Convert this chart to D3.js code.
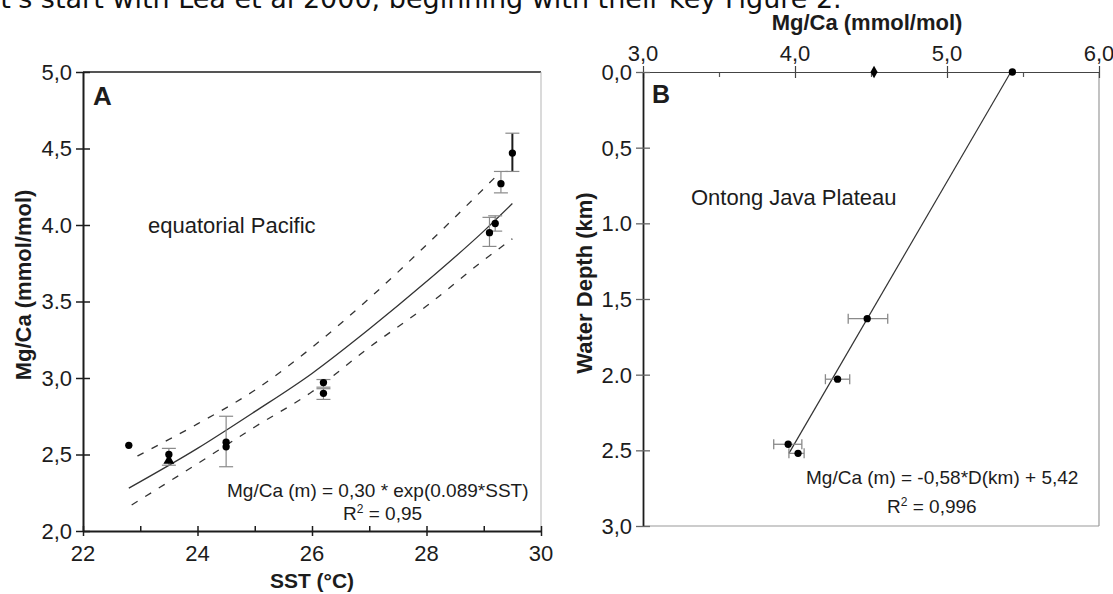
<!DOCTYPE html>
<html>
<head>
<meta charset="utf-8">
<script src="https://cdn.jsdelivr.net/npm/d3@7"></script>
<style>
  body { margin: 0; background: #fff; overflow: hidden; }
  svg { display: block; }
</style>
</head>
<body>
<div id="chart"></div>
<script>
// ---- panel A : Mg/Ca vs SST, equatorial Pacific ----
const sstTicks = [22, 24, 26, 28, 30]
const sstMinor = [23, 25, 27, 29]
const mgTicksA = [2, 2.5, 3, 3.5, 4, 4.5, 5]
const mgTickLabelsA = ['2,0', '2,5', '3,0', '3.5', '4.0', '4,5', '5,0']

const sstPts = [22.8, 23.5, 23.5, 24.5, 24.5, 26.2, 26.2, 29.1, 29.2, 29.3, 29.5]
const mgPtsA = [2.56, 2.5, 2.46, 2.58, 2.55, 2.97, 2.9, 3.95, 4.01, 4.27, 4.47]
const mgErrLoA = [null, 2.43, null, 2.42, null, 2.94, 2.86, 3.86, 3.96, 4.21, 4.35]
const mgErrHiA = [null, 2.54, null, 2.75, null, 2.99, 2.93, 4.05, 4.06, 4.35, 4.6]
const markerA = ['circle', 'circle', 'triangle', 'circle', 'circle', 'circle', 'circle', 'circle', 'circle', 'circle', 'circle']

// fitted curve and confidence band
const fitSst = [22.8, 24, 25, 26, 27, 28, 29, 29.5]
const fitMg = [2.28, 2.54, 2.78, 3.03, 3.32, 3.63, 3.96, 4.14]
const upSst = [22.95, 24, 25, 26, 27, 28, 29.3]
const upMg = [2.49, 2.7, 2.92, 3.2, 3.52, 3.87, 4.35]
const loSst = [22.85, 24, 25, 26, 27, 28, 29, 29.5]
const loMg = [2.17, 2.44, 2.68, 2.91, 3.2, 3.47, 3.77, 3.91]

// ---- panel B : Mg/Ca vs water depth, Ontong Java Plateau ----
const mgTicksB = [3, 4, 5, 6]
const mgTickLabelsB = ['3,0', '4,0', '5,0', '6,0']
const mgMinorB = [3.5, 4.5, 5.5]
const depthTicks = [0, 0.5, 1, 1.5, 2, 2.5, 3]
const depthTickLabels = ['0,0', '0,5', '1.0', '1,5', '2.0', '2.5', '3,0']

const depthPts = [0, 0, 1.63, 2.03, 2.46, 2.52]
const mgPtsB = [5.43, 4.52, 4.475, 4.28, 3.955, 4.02]
const mgErrLoB = [null, null, 4.35, 4.2, 3.86, 3.96]
const mgErrHiB = [null, null, 4.61, 4.36, 4.045, 4.06]
const markerB = ['circle', 'diamond', 'circle', 'circle', 'circle', 'circle']

const fitDepth = [0, 2.52]
const fitMgB = [5.42, 3.96]

const width = 1113
const height = 594
const ink = '#1c1c1c'
const gray = '#8a8a8a'

const A = { left: 83, right: 541, top: 72, bottom: 531 }
const B = { left: 643, right: 1099, top: 72, bottom: 526 }

const svg = d3.select('#chart')
  .append('svg')
  .attr('width', width)
  .attr('height', height)

svg.append('rect').attr('width', width).attr('height', height).attr('fill', '#fff')

const txt = (g, x, y, s, o = {}) => {
  const t = g.append('text')
    .attr('transform', `translate(${x},${y})${o.rot ? ` rotate(${o.rot})` : ''}`)
    .attr('text-anchor', o.anchor || 'start')
    .attr('dy', '0.36em')
    .style('font-family', o.family || '"Liberation Sans", Arial, sans-serif')
    .style('font-size', `${o.size || 22}px`)
    .style('font-weight', o.bold ? 'bold' : 'normal')
    .attr('fill', o.fill || ink)
  if (s) t.text(s)
  return t
}

const rSquared = (g, x, y, val, size) => {
  const t = txt(g, x, y, null, { size })
  t.append('tspan').text('R')
  t.append('tspan').attr('dy', -7).style('font-size', '12px').text('2')
  t.append('tspan').attr('dy', 7).text(` = ${val}`)
}

const symbolPath = (type) => {
  if (type === 'triangle') return d3.symbol(d3.symbolTriangle, 52)()
  if (type === 'diamond') return d3.symbol(d3.symbolDiamond, 44)()
  return d3.symbol(d3.symbolCircle, 42)()
}

// page text cut off at the top
txt(svg, -31, -2, "Let's start with Lea et al 2000, beginning with their key Figure 2.", {
  family: '"DejaVu Sans", Verdana, sans-serif', size: 27, fill: '#111'
})

// ================= PANEL A =================
const xA = d3.scaleLinear().domain([22, 30]).range([A.left, A.right])
const yA = d3.scaleLinear().domain([2, 5]).range([A.bottom, A.top])
const gA = svg.append('g')

// frame: top black, right grey
gA.append('line').attr('x1', A.left).attr('x2', A.right).attr('y1', A.top).attr('y2', A.top)
  .attr('stroke', ink).attr('stroke-width', 1.6)
gA.append('line').attr('x1', A.right).attr('x2', A.right).attr('y1', A.top).attr('y2', A.bottom)
  .attr('stroke', '#b5b5b5').attr('stroke-width', 1)

gA.append('g')
  .attr('transform', `translate(0,${A.bottom})`)
  .call(d3.axisBottom(xA).tickValues(sstMinor).tickSize(-5).tickSizeOuter(0).tickFormat(''))
  .call(g => g.select('.domain').remove())
  .call(g => g.selectAll('.tick line').attr('stroke', ink).attr('stroke-width', 1.5))

gA.append('g')
  .attr('transform', `translate(0,${A.bottom})`)
  .call(d3.axisBottom(xA).tickValues(sstTicks).tickSize(5).tickSizeOuter(0).tickFormat(''))
  .call(g => g.select('.domain').attr('stroke', ink).attr('stroke-width', 2))
  .call(g => g.selectAll('.tick line').attr('y1', -5).attr('stroke', ink).attr('stroke-width', 1.5))

gA.append('g')
  .attr('transform', `translate(${A.left},0)`)
  .call(d3.axisLeft(yA).tickValues(mgTicksA).tickSize(7).tickSizeOuter(0).tickFormat(''))
  .call(g => g.select('.domain').attr('stroke', ink).attr('stroke-width', 2))
  .call(g => g.selectAll('.tick line').attr('x1', 7).attr('stroke', ink).attr('stroke-width', 1.5))

sstTicks.forEach(v => txt(gA, xA(v), 553, String(v), { anchor: 'middle' }))
mgTicksA.forEach((v, i) => txt(gA, A.left - 11, yA(v), mgTickLabelsA[i], { anchor: 'end' }))

txt(gA, 312, 580, 'SST (°C)', { anchor: 'middle', bold: true, size: 21 })
txt(gA, 23, 285, 'Mg/Ca (mmol/mol)', { anchor: 'middle', bold: true, rot: -90 })
txt(gA, 93, 96, 'A', { bold: true, size: 26 })
txt(gA, 148, 225, 'equatorial Pacific', { size: 22 })
txt(gA, 227, 490, 'Mg/Ca (m) = 0,30 * exp(0.089*SST)', { size: 19 })
rSquared(gA, 343, 513, '0,95', 19)

const lineA = d3.line().x(d => xA(d[0])).y(d => yA(d[1])).curve(d3.curveMonotoneX)

gA.append('path').datum(d3.zip(upSst, upMg)).attr('d', lineA)
  .attr('fill', 'none').attr('stroke', '#333').attr('stroke-width', 1.3).attr('stroke-dasharray', '7,9')
gA.append('path').datum(d3.zip(loSst, loMg)).attr('d', lineA)
  .attr('fill', 'none').attr('stroke', '#333').attr('stroke-width', 1.3).attr('stroke-dasharray', '7,9')
gA.append('path').datum(d3.zip(fitSst, fitMg)).attr('d', lineA)
  .attr('fill', 'none').attr('stroke', '#333').attr('stroke-width', 1.3)

const ptsA = sstPts.map((s, i) => ({
  s, m: mgPtsA[i], lo: mgErrLoA[i], hi: mgErrHiA[i], mk: markerA[i], last: i === sstPts.length - 1
}))

const errA = gA.selectAll('.errA')
  .data(ptsA.filter(d => d.lo !== null))
  .join('g')
  .attr('class', 'errA')
  .attr('stroke', d => d.last ? ink : gray)
  .attr('stroke-width', d => d.last ? 2 : 1.2)
errA.append('line')
  .attr('x1', d => xA(d.s)).attr('x2', d => xA(d.s))
  .attr('y1', d => yA(d.lo)).attr('y2', d => yA(d.hi))
errA.selectAll('.cap')
  .data(d => [d.lo, d.hi].map(v => ({ s: d.s, v })))
  .join('line')
  .attr('class', 'cap')
  .attr('stroke', gray).attr('stroke-width', 1.2)
  .attr('x1', d => xA(d.s) - 7).attr('x2', d => xA(d.s) + 7)
  .attr('y1', d => yA(d.v)).attr('y2', d => yA(d.v))

gA.selectAll('.ptA')
  .data(ptsA)
  .join('path')
  .attr('class', 'ptA')
  .attr('transform', d => `translate(${xA(d.s)},${yA(d.m)})`)
  .attr('d', d => symbolPath(d.mk))
  .attr('fill', '#000')

// ================= PANEL B =================
const xB = d3.scaleLinear().domain([3, 6]).range([B.left, B.right])
const yB = d3.scaleLinear().domain([0, 3]).range([B.top, B.bottom])
const gB = svg.append('g')

gB.append('line').attr('x1', B.left).attr('x2', B.right).attr('y1', B.bottom).attr('y2', B.bottom)
  .attr('stroke', '#9a9a9a').attr('stroke-width', 1.2)
gB.append('line').attr('x1', B.right).attr('x2', B.right).attr('y1', B.top).attr('y2', B.bottom)
  .attr('stroke', '#9a9a9a').attr('stroke-width', 1.2)

gB.append('g')
  .attr('transform', `translate(0,${B.top})`)
  .call(d3.axisTop(xB).tickValues(mgMinorB).tickSize(-5).tickSizeOuter(0).tickFormat(''))
  .call(g => g.select('.domain').remove())
  .call(g => g.selectAll('.tick line').attr('stroke', '#555').attr('stroke-width', 1.2))

gB.append('g')
  .attr('transform', `translate(0,${B.top})`)
  .call(d3.axisTop(xB).tickValues(mgTicksB).tickSize(6).tickSizeOuter(0).tickFormat(''))
  .call(g => g.select('.domain').attr('stroke', '#444').attr('stroke-width', 1.2))
  .call(g => g.selectAll('.tick line').attr('y1', 6).attr('stroke', '#444').attr('stroke-width', 1.2))

gB.append('g')
  .attr('transform', `translate(${B.left},0)`)
  .call(d3.axisLeft(yB).tickValues(depthTicks).tickSize(7).tickSizeOuter(0).tickFormat(''))
  .call(g => g.select('.domain').attr('stroke', ink).attr('stroke-width', 1.8))
  .call(g => g.selectAll('.tick line').attr('x1', 7).attr('stroke', '#666').attr('stroke-width', 1.3))

mgTicksB.forEach((v, i) => txt(gB, xB(v), 53, mgTickLabelsB[i], { anchor: 'middle' }))
depthTicks.forEach((v, i) => txt(gB, B.left - 11, yB(v), depthTickLabels[i], { anchor: 'end' }))

txt(gB, 867, 22, 'Mg/Ca (mmol/mol)', { anchor: 'middle', bold: true })
txt(gB, 584, 283, 'Water Depth (km)', { anchor: 'middle', bold: true, rot: -90 })
txt(gB, 652, 94, 'B', { bold: true, size: 25 })
txt(gB, 691, 197, 'Ontong Java Plateau', { size: 22 })
txt(gB, 806, 477, 'Mg/Ca (m) = -0,58*D(km) + 5,42', { size: 19 })
rSquared(gB, 887, 506, '0,996', 19)

gB.append('path')
  .datum(d3.zip(fitMgB, fitDepth))
  .attr('d', d3.line().x(d => xB(d[0])).y(d => yB(d[1])))
  .attr('fill', 'none').attr('stroke', '#333').attr('stroke-width', 1.2)

const ptsB = depthPts.map((dp, i) => ({
  dp, m: mgPtsB[i], lo: mgErrLoB[i], hi: mgErrHiB[i], mk: markerB[i]
}))

const errB = gB.selectAll('.errB')
  .data(ptsB.filter(d => d.lo !== null))
  .join('g')
  .attr('class', 'errB')
  .attr('stroke', gray)
  .attr('stroke-width', 1.3)
errB.append('line')
  .attr('x1', d => xB(d.lo)).attr('x2', d => xB(d.hi))
  .attr('y1', d => yB(d.dp)).attr('y2', d => yB(d.dp))
errB.selectAll('.cap')
  .data(d => [d.lo, d.hi].map(v => ({ dp: d.dp, v })))
  .join('line')
  .attr('class', 'cap')
  .attr('x1', d => xB(d.v)).attr('x2', d => xB(d.v))
  .attr('y1', d => yB(d.dp) - 5).attr('y2', d => yB(d.dp) + 5)

gB.selectAll('.ptB')
  .data(ptsB)
  .join('path')
  .attr('class', 'ptB')
  .attr('transform', d => `translate(${xB(d.m)},${yB(d.dp)})`)
  .attr('d', d => symbolPath(d.mk))
  .attr('fill', '#000')
</script>
</body>
</html>
